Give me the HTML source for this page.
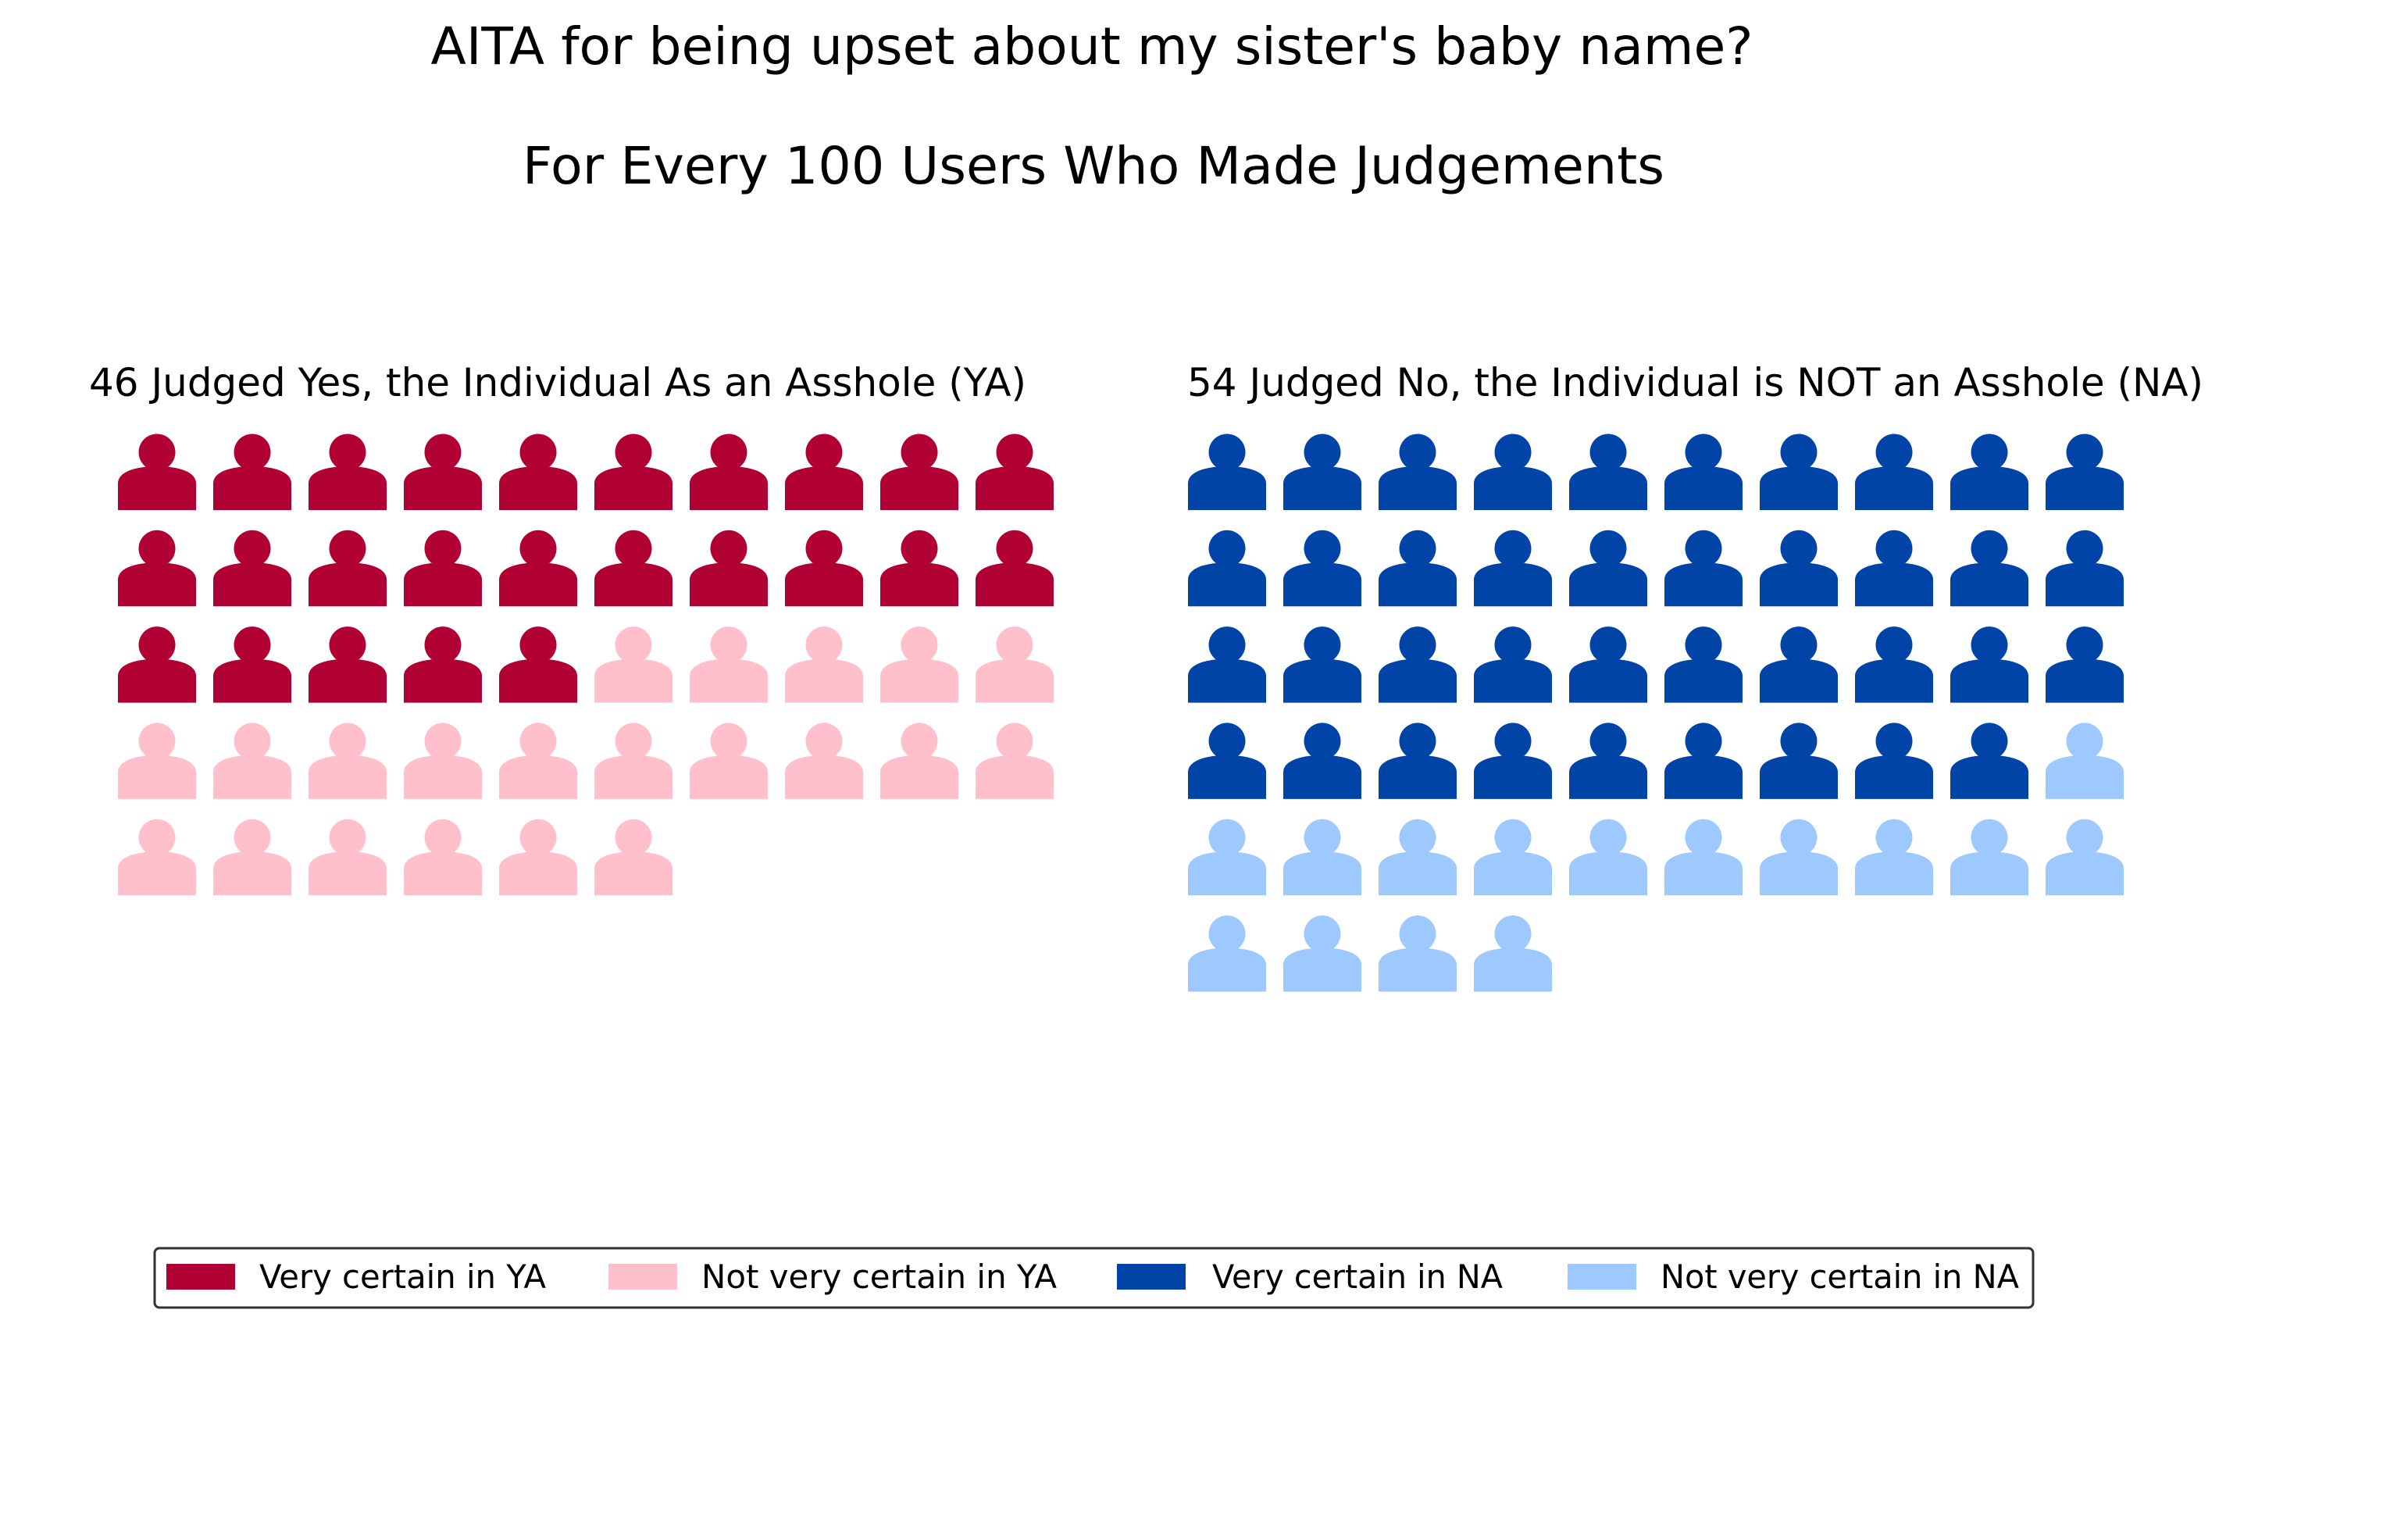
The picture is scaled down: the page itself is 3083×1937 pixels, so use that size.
<!DOCTYPE html>
<html><head><meta charset="utf-8"><style>
html,body{margin:0;padding:0;background:#fff;}
svg{display:block;font-family:"DejaVu Sans","Liberation Sans",sans-serif;}
</style></head><body>
<svg id="chart" width="3083" height="1937" viewBox="0 0 3083 1937">
<text x="1398" y="82" font-size="66" text-anchor="middle" textLength="1693" lengthAdjust="spacingAndGlyphs">AITA for being upset about my sister's baby name?</text>
<text x="1400" y="235" font-size="66" text-anchor="middle" textLength="1462" lengthAdjust="spacingAndGlyphs">For Every 100 Users Who Made Judgements</text>
<text x="114" y="507" font-size="50" textLength="1200" lengthAdjust="spacingAndGlyphs">46 Judged Yes, the Individual As an Asshole (YA)</text>
<text x="1520" y="507" font-size="50" textLength="1301" lengthAdjust="spacingAndGlyphs">54 Judged No, the Individual is NOT an Asshole (NA)</text>
<g id="icons"></g>
<g>
<rect x="198" y="1598" width="2405" height="76" rx="6" fill="#fff" stroke="#333" stroke-width="3"/>
<g id="legend-items"></g>
</g>
</svg>
<script>
const categories = ["Very certain in YA", "Not very certain in YA", "Very certain in NA", "Not very certain in NA"];
const counts = [25, 21, 39, 15];
const panelGroups = [[0, 1], [2, 3]];
const colors = ["#b10034", "#ffc0cb", "#0044a8", "#9dc9fe"];

const NS = "http://www.w3.org/2000/svg";
const iconsG = document.getElementById("icons");
const panelLeft = [151, 1521];
const colPitch = 122, rowPitch = 123.3, top0 = 556, perRow = 10;
function colX(p, i){ return panelLeft[p] + (i % perRow) * colPitch; }
function rowY(i){ return top0 + Math.floor(i / perRow) * rowPitch; }

panelGroups.forEach((grp, p) => {
  let idx = 0;
  grp.forEach(ci => {
    for (let k = 0; k < counts[ci]; k++) {
      const x = colX(p, idx), y = rowY(idx);
      const g = document.createElementNS(NS, "g");
      
      
      g.setAttribute("fill", colors[ci]);
      const c = document.createElementNS(NS, "circle");
      c.setAttribute("cx", x + 50); c.setAttribute("cy", y + 23); c.setAttribute("r", 23.5);
      const b = document.createElementNS(NS, "path");
      b.setAttribute("d", `M${x},${y+97} V${y+63} C${x},${y+47} ${x+25},${y+41} ${x+50},${y+41} C${x+75},${y+41} ${x+100},${y+47} ${x+100},${y+63} V${y+97} Z`);
      g.appendChild(c); g.appendChild(b);
      iconsG.appendChild(g);
      idx++;
    }
  });
});

const legG = document.getElementById("legend-items");
const swX = [213, 779, 1430, 2007];
const txX = [332, 898, 1552, 2126];
const txW = [367, 455, 372, 459];
categories.forEach((name, i) => {
  const r = document.createElementNS(NS, "rect");
  
  
  r.setAttribute("x", swX[i]); r.setAttribute("y", 1618); r.setAttribute("width", 88); r.setAttribute("height", 33);
  r.setAttribute("fill", colors[i]);
  legG.appendChild(r);
  const t = document.createElementNS(NS, "text");
  
  
  t.setAttribute("x", txX[i]); t.setAttribute("y", 1649);
  t.setAttribute("font-size", "42");
  t.setAttribute("textLength", txW[i]);
  t.setAttribute("lengthAdjust", "spacingAndGlyphs");
  t.textContent = name;
  legG.appendChild(t);
});
</script>
</body></html>
